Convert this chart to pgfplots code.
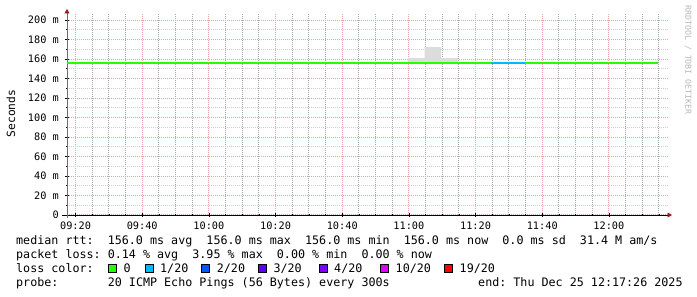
\documentclass[border=0pt]{standalone}
\usepackage{fontspec}
\setmainfont{DejaVu Sans Mono}
\setmonofont{DejaVu Sans Mono}
\usepackage{pgfplots}
\pgfplotsset{compat=1.18}
\usetikzlibrary{arrows.meta}
\definecolor{mgrid}{RGB}{230,165,165}
\definecolor{mingrid}{RGB}{205,205,205}
\definecolor{mingridx}{RGB}{165,165,165}
\definecolor{arrowred}{RGB}{150,30,30}
\definecolor{yaxisgray}{RGB}{110,110,110}
\definecolor{smoke}{RGB}{220,220,220}
\definecolor{wm}{RGB}{185,185,185}
\definecolor{lossA}{HTML}{26FF00}
\definecolor{lossB}{HTML}{00B8FF}
\definecolor{lossC}{HTML}{0059FF}
\definecolor{lossD}{HTML}{5E00FF}
\definecolor{lossE}{HTML}{7E00FF}
\definecolor{lossF}{HTML}{DD00FF}
\definecolor{lossG}{HTML}{FF0000}
\newcommand\tf{\fontsize{11.75}{14}\selectfont}
\newcommand\tk{\fontsize{10.3}{12}\selectfont}
\begin{document}\frenchspacing
\begin{tikzpicture}
\path[use as bounding box, fill=white] (0,0) rectangle (697bp,297bp);
\begin{axis}[
  at={(67bp,82bp)}, anchor=south west, scale only axis,
  width=601bp, height=202bp,
  xmin=17.43, xmax=197.73, ymin=0, ymax=207.2,
  axis x line=bottom, axis y line=left,
  x axis line style={black, line width=0.8bp, shorten <=-5bp, shorten >=-4bp, -{Triangle[length=4.5bp,width=5bp,color=arrowred]}},
  y axis line style={yaxisgray, line width=0.8bp, shorten <=-3bp, shorten >=-4bp, -{Triangle[length=4.5bp,width=5bp,color=arrowred]}},
  xtick={20,40,...,180},
  xticklabels={09:20,09:40,10:00,10:20,10:40,11:00,11:20,11:40,12:00},
  minor xtick={25,30,35,45,50,55,65,70,75,85,90,95,105,110,115,125,130,135,145,150,155,165,170,175,185,190,195},
  ytick={0,20,...,200},
  yticklabels={0,20 m,40 m,60 m,80 m,100 m,120 m,140 m,160 m,180 m,200 m},
  minor ytick={10,30,...,190},
  grid=both,
  major grid style={draw=mgrid, line width=1bp, dash pattern=on 1bp off 1bp},
  minor y grid style={draw=mingrid, line width=1bp, dash pattern=on 1bp off 1bp},
  minor x grid style={draw=mingridx, line width=1bp, dash pattern=on 1bp off 1bp},
  tick align=center, major tick length=4bp, minor tick length=2bp,
  tick style={black, line width=0.6bp},
  /pgf/number format/assume math mode=true,
  xticklabel style={font=\tk, anchor=base, inner sep=0pt, yshift=-13bp},
  yticklabel style={font=\tk, anchor=east, inner sep=0pt, xshift=-6bp},
  clip=false,
]
\addplot[fill=smoke, draw=none] coordinates {(119.7,156) (119.7,161) (124.7,161) (124.7,172.3) (129.7,172.3) (129.7,161) (134.7,161) (134.7,156)} -- cycle;
\addplot[lossA, line width=2bp] coordinates {(17.43,156) (194.7,156)};
\addplot[lossB, line width=2bp] coordinates {(144.7,156) (154.7,156)};
\end{axis}
\node[rotate=90, font=\fontsize{11.3}{13}\selectfont, inner sep=0pt] at (11bp,183.5bp) {Seconds};
\node[rotate=-90, font=\fontsize{8.3}{10}\selectfont, text=wm, inner sep=0pt] at (688bp,237bp) {RRDTOOL / TOBI OETIKER};
\node[anchor=base west, inner sep=0pt, font=\tf] at (16bp,52bp) {median rtt:~~156.0 ms avg~~156.0 ms max~~156.0 ms min~~156.0 ms now~~0.0 ms sd~~31.4 M am/s};
\node[anchor=base west, inner sep=0pt, font=\tf] at (16bp,38.2bp) {packet loss: 0.14 \% avg~~3.95 \% max~~0.00 \% min~~0.00 \% now};
\node[anchor=base west, inner sep=0pt, font=\tf] at (16bp,24.5bp) {loss color:};
\foreach \xx/\cc/\lab in {108.3/lossA/0, 145/lossB/1\slash 20, 201.7/lossC/2\slash 20, 258.3/lossD/3\slash 20, 319/lossE/4\slash 20, 380.5/lossF/10\slash 20, 444.5/lossG/19\slash 20}{
  \draw[fill=\cc, draw=black, line width=0.8bp] (\xx bp,24.6bp) rectangle ++(8bp,8bp);
  \node[anchor=base west, inner sep=0pt, font=\tf] at (\xx bp+15bp,24.5bp) {\lab};
}
\node[anchor=base west, inner sep=0pt, font=\tf] at (16bp,10.8bp) {probe:~~~~~~~20 ICMP Echo Pings (56 Bytes) every 300s};
\node[anchor=base west, inner sep=0pt, font=\tf] at (478bp,10.8bp) {end: Thu Dec 25 12:17:26 2025};
\end{tikzpicture}
\end{document}
